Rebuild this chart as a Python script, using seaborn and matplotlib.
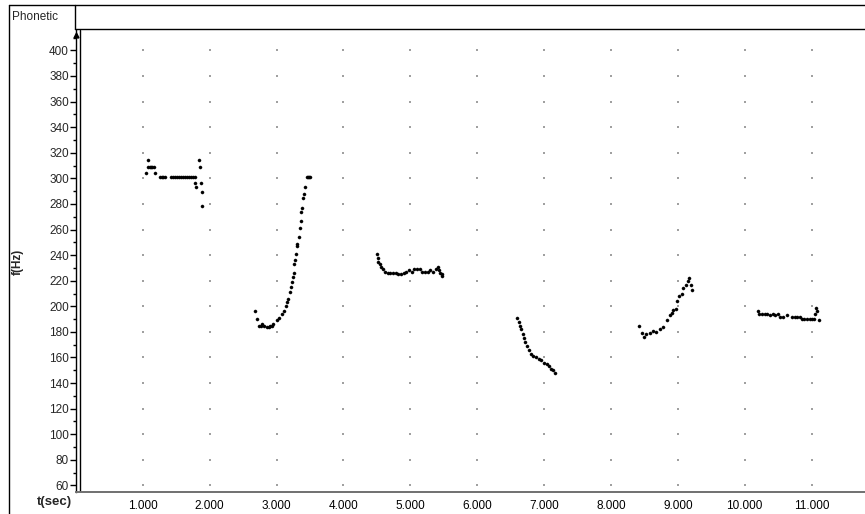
import numpy as np
import pandas as pd
import matplotlib.pyplot as plt
from matplotlib.lines import Line2D
from matplotlib.ticker import MultipleLocator
import seaborn as sns

# pitch track (t in sec, f in Hz), one array pair per voiced stretch
t_seg1 = [1.05, 1.07, 1.08, 1.10, 1.12, 1.14, 1.16, 1.18, 1.26, 1.28, 1.30, 1.33, 1.42, 1.45,
          1.48, 1.51, 1.54, 1.57, 1.60, 1.63, 1.66, 1.69, 1.72, 1.75, 1.78, 1.78, 1.80, 1.84,
          1.85, 1.87, 1.88, 1.89]
f_seg1 = [304, 314, 309, 309, 309, 309, 309, 304, 301, 301, 301, 301, 301, 301,
          301, 301, 301, 301, 301, 301, 301, 301, 301, 301, 301, 296, 293, 314,
          309, 296, 289, 278]

t_seg2 = [2.68, 2.70, 2.73, 2.76, 2.78, 2.81, 2.85, 2.88, 2.90, 2.93, 2.95, 3.00, 3.04, 3.08,
          3.11, 3.14, 3.16, 3.17, 3.20, 3.21, 3.23, 3.24, 3.26, 3.26, 3.28, 3.29, 3.31, 3.31,
          3.34, 3.35, 3.36, 3.37, 3.38, 3.40, 3.41, 3.43, 3.45, 3.47, 3.49, 3.50]
f_seg2 = [196, 190, 185, 185, 186, 185, 184, 184, 185, 185, 186, 189, 191, 194,
          196, 200, 203, 206, 211, 215, 219, 223, 226, 233, 236, 241, 247, 249,
          254, 261, 267, 274, 277, 285, 288, 293, 301, 301, 301, 301]

t_seg3 = [4.50, 4.51, 4.52, 4.54, 4.56, 4.59, 4.62, 4.66, 4.70, 4.74, 4.78, 4.82, 4.86, 4.90,
          4.94, 4.98, 5.02, 5.06, 5.10, 5.14, 5.18, 5.22, 5.26, 5.30, 5.34, 5.38, 5.41, 5.43,
          5.45, 5.47, 5.48]
f_seg3 = [241, 238, 235, 233, 231, 229, 227, 226, 226, 226, 226, 225, 225, 226,
          227, 228, 227, 229, 229, 229, 227, 227, 227, 228, 227, 229, 231, 228,
          226, 225, 224]

t_seg4 = [6.60, 6.62, 6.64, 6.66, 6.68, 6.70, 6.72, 6.74, 6.77, 6.80, 6.84, 6.88, 6.92, 6.96,
          7.00, 7.04, 7.08, 7.11, 7.14, 7.17]
f_seg4 = [191, 188, 185, 182, 178, 175, 172, 169, 166, 163, 161, 160, 159, 158,
          156, 155, 153, 151, 150, 148]

t_seg5 = [8.42, 8.46, 8.49, 8.53, 8.58, 8.63, 8.68, 8.73, 8.78, 8.84, 8.88, 8.92, 8.93, 8.97,
          8.99, 9.02, 9.06, 9.08, 9.12, 9.15, 9.17, 9.19, 9.21]
f_seg5 = [185, 179, 176, 178, 179, 181, 180, 182, 184, 189, 193, 195, 197, 198,
          204, 208, 210, 214, 217, 220, 222, 217, 213]

t_seg6 = [10.20, 10.22, 10.26, 10.30, 10.34, 10.38, 10.42, 10.46, 10.50, 10.53, 10.58, 10.64,
          10.70, 10.75, 10.78, 10.82, 10.85, 10.89, 10.93, 10.97, 11.01, 11.03, 11.05, 11.06,
          11.08, 11.11]
f_seg6 = [196, 194, 194, 194, 194, 193, 194, 193, 194, 192, 192, 193,
          192, 192, 192, 192, 190, 190, 190, 190, 190, 190, 194, 199,
          196, 189]

x_major = [1, 2, 3, 4, 5, 6, 7, 8, 9, 10, 11]
x_labels = ["1.000", "2.000", "3.000", "4.000", "5.000", "6.000", "7.000", "8.000",
            "9.000", "10.000", "11.000"]
y_major = list(range(60, 401, 20))

segments = [(t_seg1, f_seg1), (t_seg2, f_seg2), (t_seg3, f_seg3),
            (t_seg4, f_seg4), (t_seg5, f_seg5), (t_seg6, f_seg6)]
df = pd.concat([pd.DataFrame({"t": t, "f": f, "seg": i + 1})
                for i, (t, f) in enumerate(segments)], ignore_index=True)

sns.set_style("white")
plt.rcParams["font.family"] = ["Liberation Sans", "DejaVu Sans"]

W, H = 865, 514
fig = plt.figure(figsize=(W / 100, H / 100), dpi=100)
ax = fig.add_axes([76 / W, (H - 492) / H, (W - 76) / W, (492 - 30) / H])

# grid dots at each tick crossing
gx, gy = np.meshgrid(x_major, y_major)
ax.scatter(gx.ravel(), gy.ravel(), s=1.0, color="#a0a0a0", marker="s", linewidths=0, zorder=1)

sns.scatterplot(data=df, x="t", y="f", color="black", marker="o", s=5,
                edgecolor="black", linewidth=0.3, legend=False, ax=ax, zorder=3)

ax.set_xlim(0, (W - 76) / 66.87)
ax.set_ylim(54.9, 415.9)

ax.set_xticks(x_major)
ax.set_xticklabels(x_labels)
ax.xaxis.set_minor_locator(MultipleLocator(0.5))
ax.set_yticks(y_major)
ax.yaxis.set_minor_locator(MultipleLocator(10))
ax.tick_params(axis="x", which="major", length=0, pad=6, labelsize=8.5, colors="black")
ax.tick_params(axis="x", which="minor", length=3, width=1, color="black", direction="out")
ax.tick_params(axis="y", which="major", length=4, width=1, pad=1, labelsize=8.5,
               direction="out", left=True, color="black")
ax.tick_params(axis="y", which="minor", length=2, width=1, direction="out", left=True,
               color="black")
ax.set_xlabel("")
ax.set_ylabel("")

for s in ["top", "right"]:
    ax.spines[s].set_visible(False)
ax.spines["left"].set_color("black")
ax.spines["left"].set_linewidth(1)
ax.spines["bottom"].set_color("#707070")
ax.spines["bottom"].set_linewidth(1.4)

# second frame line just right of the y axis and the arrow head
ax.axvline((80 - 76) / 66.87, color="black", lw=1, zorder=2)
ax.plot(0, 0.99, marker="^", markersize=3.5, color="black", transform=ax.get_xaxis_transform(),
        clip_on=False)

# window frame and "Phonetic" header cell
def fig_line(x0, y0, x1, y1):
    fig.add_artist(Line2D([x0 / W, x1 / W], [1 - y0 / H, 1 - y1 / H], color="black", lw=1))

fig_line(9, 5, W, 5)
fig_line(9, 5, 9, H)
fig_line(75, 5, 75, 29)
fig_line(75, 29, W, 29)

fig.text(12 / W, 1 - 17 / H, "Phonetic", ha="left", va="center", fontsize=8.5)
fig.text(18 / W, 1 - 262 / H, "f(Hz)", rotation=90, ha="center", va="center",
         fontsize=8.5, fontweight="bold")
fig.text(54 / W, 1 - 502 / H, "t(sec)", ha="center", va="center", fontsize=9.5,
         fontweight="bold")

fig.savefig("out.png", dpi=100)
